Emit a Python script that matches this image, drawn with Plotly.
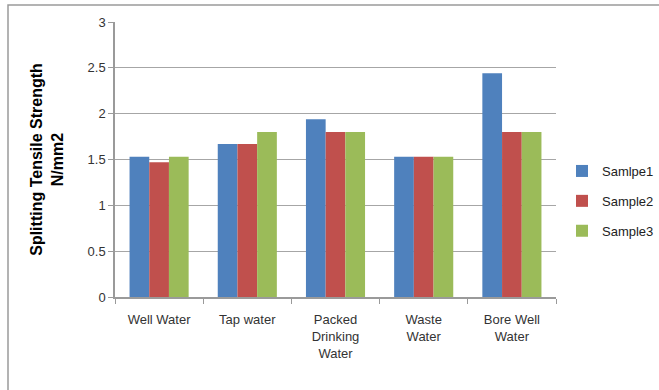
import plotly.graph_objects as go

categories = ["Well Water", "Tap water", "Packed<br>Drinking<br>Water", "Waste<br>Water", "Bore Well<br>Water"]
series_names = ["Samlpe1", "Sample2", "Sample3"]
sample1 = [1.53, 1.67, 1.94, 1.53, 2.44]
sample2 = [1.47, 1.67, 1.80, 1.53, 1.80]
sample3 = [1.53, 1.80, 1.80, 1.53, 1.80]
colors = ["#4F81BD", "#C0504D", "#9BBB59"]

W, H = 659, 390
L, R, T, B = 115, 556, 22, 297

fig = go.Figure()
for name, vals, c in zip(series_names, [sample1, sample2, sample3], colors):
    fig.add_trace(go.Bar(x=categories, y=vals, name=name, legendgroup=name,
                         marker=dict(color=c, line=dict(width=0))))

def px2x(p):
    return (p - L) / (R - L)

def py2y(p):
    return (B - p) / (B - T)

fig.update_layout(
    width=W, height=H,
    margin=dict(l=L, r=W - R, t=T, b=H - B, autoexpand=False),
    paper_bgcolor="white", plot_bgcolor="white",
    barmode="group", bargap=0.33, bargroupgap=0,
    font=dict(family="Liberation Sans", size=13, color="#333333"),
    legend=dict(x=px2x(562), y=py2y(156), xanchor="left", yanchor="top",
                font=dict(size=13, color="#222222"), tracegroupgap=10,
                traceorder="grouped", itemwidth=30, bgcolor="rgba(0,0,0,0)"),
    xaxis=dict(showline=True, linecolor="#9a9a9a", linewidth=1.5,
               ticks="outside", tickson="boundaries", ticklen=5, tickcolor="#9a9a9a",
               ticklabelstandoff=10,
               tickfont=dict(size=13, color="#333333")),
    yaxis=dict(range=[0, 3], dtick=0.5, showline=True, linecolor="#9a9a9a", linewidth=1.5,
               gridcolor="#a6a6a6", gridwidth=1, ticks="outside", ticklen=5, tickcolor="#9a9a9a",
               tickfont=dict(size=13, color="#333333"), zeroline=False,
               title=dict(text="<b>Splitting Tensile Strength<br>N/mm2</b>",
                          font=dict(size=16, color="black", family="Liberation Sans"), standoff=20)),
    shapes=[dict(type="rect", xref="paper", yref="paper",
                 x0=px2x(8), x1=px2x(668), y0=py2y(400), y1=py2y(5),
                 line=dict(color="#9a9a9a", width=1.5), layer="below")],
)

fig.write_html("out.html")
